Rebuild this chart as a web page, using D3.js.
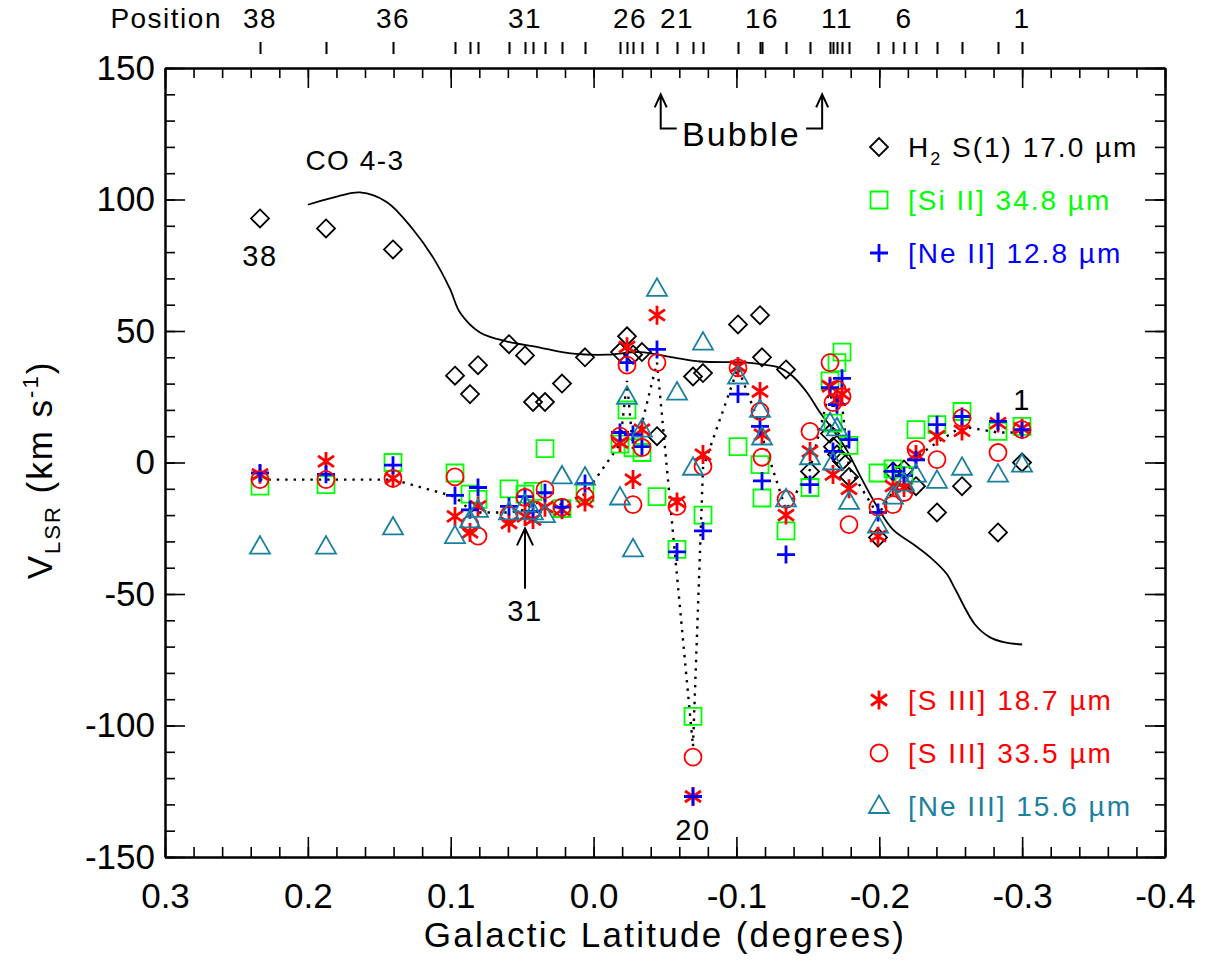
<!DOCTYPE html>
<html><head><meta charset="utf-8">
<script src="https://cdn.jsdelivr.net/npm/d3@7"></script>
<style>
body{margin:0;background:#fff;}
svg text{font-family:"Liberation Sans",Arial,sans-serif;}
</style></head>
<body><svg id="c" width="1210" height="966"></svg>
<script>
// ---------------- DATA ----------------
const positions = [38,37,36,35,34,33,32,31,30,29,28,27,26,25,24,23,22,21,20,19,18,17,16,15,14,13,12,11,10,9,8,7,6,5,4,3,2,1];
const latitudes = [0.2335,0.1873,0.1404,0.0970,0.0865,0.0809,0.0592,0.0480,0.0424,0.0340,0.0221,0.0060,-0.0185,-0.0234,-0.0276,-0.0339,-0.0444,-0.0584,-0.0696,-0.0766,-0.1011,-0.1165,-0.1179,-0.1347,-0.1515,-0.1655,-0.1676,-0.1704,-0.1739,-0.1788,-0.1991,-0.2096,-0.2173,-0.2257,-0.2404,-0.2579,-0.2831,-0.2999];
const h2S1 = [92.8,89,81,33,26,37,45,40.7,23,23,30,40,42,48,41,42,10,null,32.7,34,52.5,56,40,35.4,-3.4,11,6,3,0.5,-5.5,-28.5,-3.4,-2.7,-9,-19,-9,-26.6,0];
const siII = [-9,-8.4,0,-4,-12,-14,-10,-12,-11,5.3,-17.5,-11.5,7,20,5.6,3.8,-13,-33,-96.5,-20,6,-0.8,-13.5,-26,-9.5,31,15,38,42,6.5,-4,-2.4,-5,12.5,14.4,19.4,11.8,13.7];
const neII = [-4,-4.5,-1,-12.5,-18,-9.5,-16.7,-13,-18.6,-11.5,-17,-8,11.4,38,10.6,6,43,-34,-127,-26,26,13.7,-7,-35,-8.4,28.5,4.2,22,32,8.7,-19,-3.4,-5,1,14.4,17.5,15.6,12.5];
const sIII18 = [-4.5,0.4,-6,-20.5,-26.6,-16.7,-23,-20.5,-21.7,-17,-18,-15,7.6,44,-6.5,12.5,56,-15,-127,3,36.5,27,10.6,-20,4.2,29,-4.6,24,26,-10,-28,-9,-9.5,3,10,12,15,13];
const sIII33 = [-6.5,-6.5,-6,-5.5,-23.6,-28,-20,-13.3,-18,-10.3,-17,-13,10,37,-16,5.7,38,-16.7,-112,-1.5,36,19.4,2,-14,11.8,38,22.8,27.8,25,-23.6,-17,-16,-11.4,5,1.1,17,3.8,12.5];
const neIII = [-32,-32,-24.7,-28,-22,-18,-19,-16,-19,-20,-5.3,-5.7,-13.3,25,-33,12.5,66,26.6,-2,45.6,32.7,20,9.5,-14,2,15,0,13,null,-15,-24,-13,-8,-4.6,-7,-2,-4.6,-0.8];
const meanIon = [-6.5,-6.5,-6.5,-13,-18,-19,-19,-18,-16,-14,-16,-12,7,31,5,15,38,null,-108,-2,36,14,10,-18,-2.7,28,20,28,22,-2,-20,-11,-5,2,7.6,13.7,11.4,11.4];
const coLat = [0.2000,0.1824,0.1635,0.1446,0.1264,0.1124,0.1005,0.0935,0.0795,0.0606,0.0375,0.0144,-0.0094,-0.0325,-0.0556,-0.0745,-0.1074,-0.1214,-0.1305,-0.1396,-0.1494,-0.1585,-0.1676,-0.1774,-0.1865,-0.1984,-0.2096,-0.2236,-0.2355,-0.2474,-0.2530,-0.2670,-0.2775,-0.2880,-0.3000];
const coVel = [98,100.7,102.7,99,88.6,78,66,57,49.4,46,43.7,41.4,41,42,40,38.4,38,37,36,32.7,26.6,19,12.5,4.5,-5,-16.7,-25.5,-31,-36,-42.5,-48,-61.6,-66.5,-68.4,-69.2];
const xTickValues = [0.3,0.2,0.1,0.0,-0.1,-0.2,-0.3,-0.4];
const yTickValues = [150,100,50,0,-50,-100,-150];
const labeledPositions = [38,36,31,26,21,16,11,6,1];

// ---------------- SETUP ----------------
const svg = d3.select("#c");
const x = d3.scaleLinear().domain([0.3,-0.4]).range([165,1165]);
const y = d3.scaleLinear().domain([-150,150]).range([857,68]);
const FONT = '"Liberation Sans",Arial,sans-serif';
const TEAL = "#1a80a0", GREEN = "#00ff00", BLUE = "#0000ff", RED = "#ff0000";

const xMinor = d3.range(0, 36).map(i => 0.3 - i*0.02);
const yMinor = d3.range(0, 31).map(i => -150 + i*10);

function styleAxis(g){
  g.selectAll(".domain").attr("stroke","#000").attr("stroke-width",2);
  g.selectAll(".tick line").attr("stroke","#000").attr("stroke-width",1.6);
  g.selectAll("text").attr("font-family",FONT).attr("font-size",35).attr("fill","#000");
}
// bottom
svg.append("g").attr("transform","translate(0,857)")
  .call(d3.axisBottom(x).tickValues(xMinor).tickSizeInner(-10).tickSizeOuter(0).tickFormat(""))
  .call(styleAxis);
svg.append("g").attr("transform","translate(0,857)")
  .call(d3.axisBottom(x).tickValues(xTickValues).tickSizeInner(-20).tickSizeOuter(0).tickPadding(26).tickFormat(d=>d.toFixed(1)))
  .call(styleAxis);
// top
svg.append("g").attr("transform","translate(0,68)")
  .call(d3.axisTop(x).tickValues(xMinor).tickSizeInner(-10).tickSizeOuter(0).tickFormat(""))
  .call(styleAxis);
svg.append("g").attr("transform","translate(0,68)")
  .call(d3.axisTop(x).tickValues(xTickValues).tickSizeInner(-20).tickSizeOuter(0).tickFormat(""))
  .call(styleAxis);
// left
svg.append("g").attr("transform","translate(165,0)")
  .call(d3.axisLeft(y).tickValues(yMinor).tickSizeInner(-10).tickSizeOuter(0).tickFormat(""))
  .call(styleAxis);
svg.append("g").attr("transform","translate(165,0)")
  .call(d3.axisLeft(y).tickValues(yTickValues).tickSizeInner(-20).tickSizeOuter(0).tickPadding(10).tickFormat(d=>String(d)))
  .call(styleAxis);
// right
svg.append("g").attr("transform","translate(1165,0)")
  .call(d3.axisRight(y).tickValues(yMinor).tickSizeInner(-10).tickSizeOuter(0).tickFormat(""))
  .call(styleAxis);
svg.append("g").attr("transform","translate(1165,0)")
  .call(d3.axisRight(y).tickValues(yTickValues).tickSizeInner(-20).tickSizeOuter(0).tickFormat(""))
  .call(styleAxis);

// position axis on top
const posAxis = svg.append("g").attr("transform","translate(0,54)")
  .call(d3.axisTop(x).tickValues(latitudes).tickSizeInner(12).tickSizeOuter(0).tickFormat(""));
posAxis.select(".domain").remove();
posAxis.selectAll(".tick line").attr("stroke","#000").attr("stroke-width",2);
svg.append("text").attr("x",222).attr("y",28).attr("text-anchor","end")
  .attr("font-size",28).attr("letter-spacing",1.5).text("Position");
svg.selectAll("text.poslab").data(labeledPositions).enter().append("text")
  .attr("class","poslab")
  .attr("x",p => x(latitudes[positions.indexOf(p)]) + (p===26?10:0))
  .attr("y",28).attr("text-anchor","middle").attr("font-size",28).attr("letter-spacing",1.5)
  .text(p=>p);

// axis titles
svg.append("text").attr("x",665).attr("y",947).attr("text-anchor","middle")
  .attr("font-size",35).attr("letter-spacing",2.3).text("Galactic Latitude (degrees)");
const yt = svg.append("text").attr("transform","translate(52,470) rotate(-90)")
  .attr("text-anchor","middle").attr("font-size",35).attr("letter-spacing",2);
yt.append("tspan").text("V");
yt.append("tspan").attr("font-size",22).attr("dy",8).text("LSR");
yt.append("tspan").attr("dy",-8).text(" (km s");
yt.append("tspan").attr("font-size",22).attr("dy",-14).text("-1");
yt.append("tspan").attr("dy",14).text(")");

// ---------------- LINES ----------------
const plot = svg.append("g");
const coData = coLat.map((l,i)=>({l, v:coVel[i]}));
plot.append("path").datum(coData)
  .attr("d", d3.line().x(d=>x(d.l)).y(d=>y(d.v)).curve(d3.curveCatmullRom))
  .attr("fill","none").attr("stroke","#000").attr("stroke-width",1.8);

const meanData = latitudes.map((l,i)=>({l, v:meanIon[i]})).filter(d=>d.v!==null);
plot.append("path").datum(meanData)
  .attr("d", d3.line().x(d=>x(d.l)).y(d=>y(d.v)))
  .attr("fill","none").attr("stroke","#000").attr("stroke-width",2.4)
  .attr("stroke-dasharray","2.4 6");

// ---------------- MARKERS ----------------
const shapes = {
  diamond: "M0,-9L9,0L0,9L-9,0Z",
  square: "M-8.5,-8.5H8.5V8.5H-8.5Z",
  plus: "M-9,0H9M0,-9V9",
  asterisk: "M0,-9.5V9.5M-8,-5.5L8,5.5M-8,5.5L8,-5.5",
  triangle: "M0,-10.5L10,7L-10,7Z"
};
function drawMarker(g, sym, color, cx, cy){
  if(sym==="circle"){
    g.append("circle").attr("cx",cx).attr("cy",cy).attr("r",8.5)
      .attr("fill","none").attr("stroke",color).attr("stroke-width",1.8);
  } else {
    const w = (sym==="plus"||sym==="asterisk") ? 2.8 : 1.8;
    g.append("path").attr("d",shapes[sym]).attr("transform",`translate(${cx},${cy})`)
      .attr("fill","none").attr("stroke",color).attr("stroke-width",w);
  }
}
const series = [
  {vals:h2S1, sym:"diamond", color:"#000"},
  {vals:siII, sym:"square", color:GREEN},
  {vals:sIII18, sym:"asterisk", color:RED},
  {vals:neII, sym:"plus", color:BLUE},
  {vals:sIII33, sym:"circle", color:RED},
  {vals:neIII, sym:"triangle", color:TEAL}
];
series.forEach(s=>{
  const g = plot.append("g");
  s.vals.forEach((v,i)=>{ if(v!==null) drawMarker(g, s.sym, s.color, x(latitudes[i]), y(v)); });
});

// ---------------- LEGENDS ----------------
const legTop = [
  {sym:"diamond", color:"#000", parts:[["H",0],["2",1],[" S(1) 17.0 µm",0]]},
  {sym:"square", color:GREEN, parts:[["[Si II] 34.8 µm",0]]},
  {sym:"plus", color:BLUE, parts:[["[Ne II] 12.8 µm",0]]}
];
const legBot = [
  {sym:"asterisk", color:RED, parts:[["[S III] 18.7 µm",0]]},
  {sym:"circle", color:RED, parts:[["[S III] 33.5 µm",0]]},
  {sym:"triangle", color:TEAL, parts:[["[Ne III] 15.6 µm",0]]}
];
function legend(items, y0){
  items.forEach((it,i)=>{
    const cy = y0 + i*53;
    const g = svg.append("g");
    drawMarker(g, it.sym, it.color, 879, cy);
    const t = svg.append("text").attr("x",908).attr("y",cy+10).attr("font-size",28)
      .attr("letter-spacing",2).attr("fill",it.color);
    let sub=false;
    it.parts.forEach(p=>{
      const ts = t.append("tspan").text(p[0]);
      if(p[1]===1){ ts.attr("font-size",18).attr("dy",8); sub=true; }
      else if(sub){ ts.attr("dy",-8); sub=false; }
    });
  });
}
legend(legTop, 147);
legend(legBot, 700);

// ---------------- ANNOTATIONS ----------------
svg.append("text").attr("x",355).attr("y",170).attr("text-anchor","middle")
  .attr("font-size",28).attr("letter-spacing",1.5).text("CO 4-3");
function posLabel(p, dy, txt){
  const i = positions.indexOf(p);
  svg.append("text").attr("x",x(latitudes[i])).attr("y",dy).attr("text-anchor","middle")
    .attr("font-size",29).attr("letter-spacing",1.5).text(txt);
}
posLabel(38, 266, "38");
posLabel(20, 840, "20");
posLabel(1, 410, "1");
posLabel(31, 621, "31");
// arrow to position 31
const ax31 = x(latitudes[positions.indexOf(31)]);
svg.append("path").attr("d",`M${ax31},${y(-48)}V${y(-25)}M${ax31-8},${y(-31.5)}L${ax31},${y(-25)}L${ax31+8},${y(-31.5)}`)
  .attr("fill","none").attr("stroke","#000").attr("stroke-width",2);
// Bubble bracket
const bx1 = x(-0.047), bx2 = x(-0.160);
svg.append("path").attr("d",
  `M${bx1+16},${y(127)}H${bx1}V${y(140)}M${bx1-6},${y(135)}L${bx1},${y(140)}L${bx1+6},${y(135)}` +
  `M${bx2-16},${y(127)}H${bx2}V${y(140)}M${bx2-6},${y(135)}L${bx2},${y(140)}L${bx2+6},${y(135)}`)
  .attr("fill","none").attr("stroke","#000").attr("stroke-width",2);
svg.append("text").attr("x",(bx1+bx2)/2).attr("y",146).attr("text-anchor","middle")
  .attr("font-size",34).attr("letter-spacing",2.2).text("Bubble");
</script>
</body></html>
